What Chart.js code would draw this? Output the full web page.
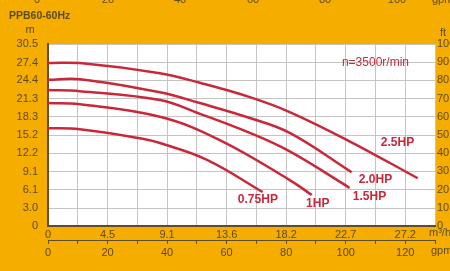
<!DOCTYPE html>
<html>
<head>
<meta charset="utf-8">
<script src="https://cdn.jsdelivr.net/npm/chart.js@4"></script>
<style>
  html, body { margin: 0; padding: 0; background: #f5ae00; }
  #wrap { width: 450px; height: 271px; }
</style>
</head>
<body>
<div id="wrap"><canvas id="pumpChart"></canvas></div>
<script>
// Flow (gpm) and head (m)
const gpm075 = [0, 10.7, 30.9, 37.6, 53.4, 72.1];
const head075 = [16.4, 16.2, 14.7, 13.9, 11.1, 5.7];

const gpm1 = [0, 10.7, 37.6, 57.7, 81.2, 88.6];
const head1 = [20.6, 20.4, 18.3, 14.4, 7.7, 5.2];

const gpm15 = [0, 10.7, 37.6, 51, 67.8, 81.2, 101.3];
const head15 = [22.8, 22.6, 21.1, 18.8, 15.6, 12.5, 6.4];

const gpm20 = [0, 10.7, 37.6, 51, 67.8, 81.2, 102];
const head20 = [24.5, 24.6, 22.4, 20.6, 18.1, 15.6, 9.0];

const gpm25 = [0, 10.7, 37.6, 51, 67.8, 81.2, 101.3, 124.2];
const head25 = [27.3, 27.3, 25.6, 24.0, 21.6, 19.1, 14.2, 8.0];

// Tick labels
const headTicksM = ['0', '3.0', '6.1', '9.1', '12.2', '15.2', '18.3', '21.3', '24.4', '27.4', '30.5'];
const flowTicksM3h = ['0', '4.5', '9.1', '13.6', '18.2', '22.7', '27.2'];
const flowTicksGpm = ['0', '20', '40', '60', '80', '100', '120'];
const hpNames = ['0.75HP', '1HP', '1.5HP', '2.0HP', '2.5HP'];

const orange = '#f5ae00';
const dark = '#5c4a1e';
const red = '#c9283a';

function pts(xs, ys) {
  return xs.map((x, i) => ({ x: x, y: ys[i] }));
}

function curve(label, xs, ys) {
  return {
    label: label,
    data: pts(xs, ys),
    borderColor: red,
    borderWidth: 2.5,
    pointRadius: 0,
    fill: false,
    tension: 0.4
  };
}

// Backgrounds + all the loose text on the sheet
const paperPlugin = {
  id: 'paper',
  beforeDraw(chart) {
    const c = chart.ctx;
    const a = chart.chartArea;
    c.save();
    c.fillStyle = orange;
    c.fillRect(0, 0, chart.width, chart.height);
    c.fillStyle = '#ffffff';
    c.fillRect(a.left, a.top, a.right - a.left, a.bottom - a.top);
    c.restore();
  },
  afterDraw(chart) {
    const c = chart.ctx;
    const x = chart.scales.x;
    const y = chart.scales.y;
    c.save();

    // cut-off axis of the chart above
    c.fillStyle = dark;
    c.font = '11px "Liberation Sans", Arial, sans-serif';
    c.textAlign = 'center';
    c.textBaseline = 'alphabetic';
    const topX = [37, 108, 180, 253, 325, 397];
    ['0', '20', '40', '60', '80', '100'].forEach((t, i) => c.fillText(t, topX[i], 3));
    c.textAlign = 'left';
    c.fillText('gpm', 432, 3);

    // title and units
    c.font = 'bold 10.5px "Liberation Sans", Arial, sans-serif';
    c.textBaseline = 'middle';
    c.fillText('PPB60-60Hz', 9, 16);
    c.font = '11px "Liberation Sans", Arial, sans-serif';
    c.textAlign = 'center';
    c.fillText('m', 30, 30);
    c.textAlign = 'left';
    c.fillText('ft', 440, 33);
    c.fillText('m\u00b3/h', 429, 233);
    c.fillText('gpm', 431, 251);

    // curve labels
    c.fillStyle = red;
    c.textAlign = 'center';
    c.font = '12px "Liberation Sans", Arial, sans-serif';
    c.fillText('n=3500r/min', x.getPixelForValue(110), y.getPixelForValue(27.3));
    c.font = 'bold 12px "Liberation Sans", Arial, sans-serif';
    const labelAt = [[70.5, 4.4], [90.6, 3.7], [108, 4.9], [110, 7.7], [117.4, 13.9]];
    hpNames.forEach((n, i) => {
      c.fillText(n, x.getPixelForValue(labelAt[i][0]), y.getPixelForValue(labelAt[i][1]));
    });
    c.restore();
  }
};

const tickFont = { family: '"Liberation Sans", Arial, sans-serif', size: 11 };

new Chart(document.getElementById('pumpChart'), {
  type: 'line',
  data: {
    datasets: [
      curve('0.75HP', gpm075, head075),
      curve('1HP', gpm1, head1),
      curve('1.5HP', gpm15, head15),
      curve('2.0HP', gpm20, head20),
      curve('2.5HP', gpm25, head25)
    ]
  },
  options: {
    responsive: true,
    maintainAspectRatio: false,
    animation: false,
    layout: { padding: { top: 44, left: 0, right: 0, bottom: 0 } },
    plugins: {
      legend: { display: false },
      tooltip: { enabled: false }
    },
    scales: {
      x: {
        type: 'linear',
        position: 'bottom',
        min: 0,
        max: 130,
        afterFit: (s) => { s.height = 14; },
        ticks: {
          stepSize: 10,
          autoSkip: false,
          maxRotation: 0,
          padding: 2,
          color: dark,
          font: tickFont,
          callback: (v) => (v % 20 === 0 && v / 20 < flowTicksM3h.length) ? flowTicksM3h[v / 20] : ''
        },
        grid: { color: '#c4c4c4', drawTicks: false },
        border: { color: '#5f4b2e', width: 2 }
      },
      x2: {
        type: 'linear',
        position: 'bottom',
        min: 0,
        max: 130,
        afterFit: (s) => { s.height = 31; },
        ticks: {
          stepSize: 10,
          autoSkip: false,
          maxRotation: 0,
          padding: 2,
          color: dark,
          font: tickFont,
          callback: (v) => (v % 20 === 0 && v / 20 < flowTicksGpm.length) ? flowTicksGpm[v / 20] : ''
        },
        grid: { drawOnChartArea: false, color: '#5f4b2e', tickLength: 4 },
        border: { color: '#5f4b2e', width: 1 }
      },
      y: {
        type: 'linear',
        position: 'left',
        min: 0,
        max: 30.5,
        afterFit: (s) => { s.width = 48; },
        afterBuildTicks: (s) => { s.ticks = headTicksM.map((t) => ({ value: parseFloat(t) })); },
        ticks: {
          padding: 10,
          color: dark,
          font: tickFont,
          callback: (v) => headTicksM[headTicksM.map(parseFloat).indexOf(v)]
        },
        grid: { color: '#c4c4c4', drawTicks: false },
        border: { color: '#5f4b2e', width: 2 }
      },
      y2: {
        type: 'linear',
        position: 'right',
        min: 0,
        max: 100,
        afterFit: (s) => { s.width = 15; },
        ticks: { stepSize: 10, padding: 2, color: dark, font: tickFont },
        grid: { drawOnChartArea: false, drawTicks: false },
        border: { display: false }
      }
    }
  },
  plugins: [paperPlugin]
});
</script>
</body>
</html>
